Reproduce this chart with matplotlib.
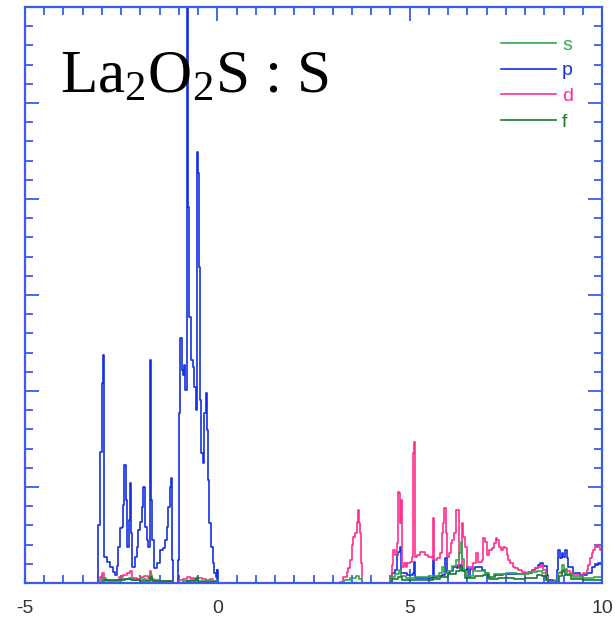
import numpy as np
import matplotlib
matplotlib.use('Agg')
import matplotlib.pyplot as plt
from matplotlib import rcParams
import matplotlib.ticker as ticker

rcParams['font.family'] = 'sans-serif'
rcParams['font.sans-serif'] = ['Liberation Sans', 'DejaVu Sans']
rcParams['mathtext.fontset'] = 'custom'
rcParams['mathtext.rm'] = 'Liberation Serif'
rcParams['mathtext.it'] = 'Liberation Serif:italic'

# partial DOS (energy in eV, DOS in arbitrary units)
# p states
p_e = [-3.15, -3.10, -3.05, -3.01, -2.97, -2.94, -2.87, -2.79, -2.71, -2.66,
       -2.61, -2.57, -2.53, -2.49, -2.44, -2.42, -2.37, -2.34, -2.30, -2.27,
       -2.24, -2.21, -2.14, -2.10, -2.05, -2.01, -1.97, -1.93, -1.88, -1.84,
       -1.79, -1.75, -1.72, -1.69, -1.65, -1.58, -1.49, -1.40, -1.36, -1.32,
       -1.28, -1.23, -1.20, -1.17, -1.15, -1.05, -1.02, -0.99, -0.96, -0.93,
       -0.89, -0.86, -0.83, -0.80, -0.76, -0.73, -0.68, -0.64, -0.60, -0.56,
       -0.53, -0.49, -0.47, -0.44, -0.42, -0.38, -0.34, -0.30, -0.27, -0.24,
       -0.21, -0.17, -0.12, -0.08, -0.04, -0.01, 0.02,
       4.44, 4.53, 4.62, 4.66, 4.70, 4.75, 4.77, 4.92, 5.09, 5.11,
       5.15, 5.48, 5.61, 5.64, 5.74, 5.83, 5.92, 5.96, 6.05, 6.13,
       6.22, 6.26, 6.36, 6.48, 6.52, 6.57, 6.70, 6.87, 6.96, 7.04,
       7.22, 7.43, 8.00, 8.17, 8.26, 8.34, 8.39, 8.47, 8.56, 8.60,
       8.73, 8.82, 8.86, 8.91, 8.95, 8.99, 9.04, 9.08, 9.12, 9.25,
       9.43, 9.60, 9.73, 9.82, 9.90, 10.0]
p_dos = [0.0, 0.60, 1.36, 2.08, 2.38, 0.27, 0.22, 0.17, 0.11, 0.08,
         0.18, 0.375, 0.57, 0.58, 0.81, 1.23, 0.86, 0.375, 0.66, 1.04,
         0.52, 0.17, 0.27, 0.375, 0.55, 0.64, 0.79, 1.0, 0.58, 0.45,
         0.375, 2.32, 0.86, 0.45, 0.16, 0.21, 0.34, 0.36, 0.45, 0.58,
         0.79, 1.0, 1.09, 0.24, 0.0, 0.0, 0.24, 1.77, 2.55, 2.22,
         2.17, 2.27, 2.01, 7.0, 3.92, 2.77, 2.32, 2.25, 2.04, 1.80,
         4.49, 4.27, 3.29, 1.91, 1.35, 1.25, 1.77, 1.98, 1.59, 1.07,
         0.625, 0.375, 0.21, 0.10, 0.06, 0.135, 0.0,
         0.0, 0.10, 0.135, 0.29, 0.32, 0.375, 0.10, 0.08, 0.10, 0.22,
         0.05, 0.05, 0.24, 0.06, 0.07, 0.08, 0.26, 0.10, 0.125, 0.17,
         0.16, 0.19, 0.135, 0.17, 0.06, 0.15, 0.17, 0.135, 0.10, 0.06,
         0.08, 0.09, 0.10, 0.135, 0.16, 0.19, 0.21, 0.18, 0.08, 0.03,
         0.01, 0.135, 0.34, 0.26, 0.31, 0.27, 0.34, 0.26, 0.17, 0.10,
         0.08, 0.10, 0.17, 0.19, 0.21, 0.21]

# d states
d_e = [-3.15, -3.05, -3.00, -2.95, -2.80, -2.65, -2.55, -2.45, -2.35, -2.28,
       -2.22, -2.10, -2.00, -1.90, -1.80, -1.75, -1.72, -1.65, -1.55, -1.40,
       -1.20, -1.15, -1.05, -1.00, -0.90, -0.80, -0.70, -0.60, -0.50, -0.40,
       -0.30, -0.20, -0.10, 0.00,
       3.11, 3.19, 3.27, 3.36, 3.40, 3.45, 3.49, 3.53, 3.58, 3.62,
       3.65, 3.68, 3.71, 3.73, 3.77, 4.44, 4.49, 4.53, 4.57, 4.62,
       4.66, 4.69, 4.72, 4.75, 4.77, 4.81, 4.85, 4.90, 4.94, 5.01,
       5.06, 5.09, 5.12, 5.15, 5.20, 5.27, 5.34, 5.40, 5.48, 5.57,
       5.61, 5.64, 5.70, 5.79, 5.85, 5.87, 5.90, 5.94, 5.98, 6.02,
       6.07, 6.11, 6.15, 6.20, 6.25, 6.28, 6.35, 6.39, 6.43, 6.48,
       6.61, 6.65, 6.72, 6.77, 6.87, 6.91, 6.96, 7.00, 7.06, 7.13,
       7.19, 7.24, 7.28, 7.32, 7.37, 7.43, 7.48, 7.52, 7.56, 7.61,
       7.68, 7.74, 7.81, 7.91, 8.00, 8.07, 8.17, 8.26, 8.34, 8.41,
       8.47, 8.54, 8.60, 8.78, 8.85, 8.91, 8.98, 9.08, 9.17, 9.25,
       9.43, 9.51, 9.60, 9.64, 9.69, 9.73, 9.77, 9.82, 9.86, 9.90,
       9.96, 10.0]
d_dos = [0.0, 0.06, 0.10, 0.03, 0.02, 0.03, 0.06, 0.08, 0.10, 0.12,
         0.05, 0.04, 0.06, 0.07, 0.05, 0.12, 0.04, 0.02, 0.01, 0.02,
         0.02, 0.0, 0.0, 0.03, 0.04, 0.06, 0.05, 0.04, 0.05, 0.04,
         0.03, 0.04, 0.02, 0.0,
         0.0, 0.01, 0.06, 0.11, 0.16, 0.24, 0.40, 0.48, 0.52, 0.64,
         0.76, 0.625, 0.52, 0.21, 0.0, 0.0, 0.06, 0.19, 0.34, 0.29,
         0.42, 0.95, 0.94, 0.625, 0.86, 0.17, 0.21, 0.17, 0.21, 0.22,
         0.27, 1.35, 1.47, 0.27, 0.29, 0.32, 0.32, 0.29, 0.27, 0.26,
         0.68, 0.24, 0.26, 0.31, 0.52, 0.625, 0.78, 0.52, 0.27, 0.31,
         0.42, 0.45, 0.52, 0.76, 0.76, 0.17, 0.625, 0.48, 0.375, 0.17,
         0.135, 0.21, 0.31, 0.22, 0.24, 0.47, 0.43, 0.29, 0.34, 0.36,
         0.42, 0.47, 0.45, 0.375, 0.34, 0.375, 0.36, 0.29, 0.24, 0.21,
         0.17, 0.16, 0.135, 0.11, 0.10, 0.11, 0.135, 0.16, 0.17, 0.19,
         0.135, 0.06, 0.01, 0.03, 0.10, 0.11, 0.135, 0.125, 0.10, 0.08,
         0.07, 0.10, 0.135, 0.19, 0.26, 0.31, 0.34, 0.375, 0.40, 0.375,
         0.34, 0.34]

# s states
s_e = [-3.10, -3.00, -2.90, -2.70, -2.50, -2.30, -2.20, -2.00, -1.85, -1.75,
       -1.70, -1.50, -1.15, -0.90, -0.70, -0.53, -0.50, -0.30, 0.00,
       3.25, 3.30, 3.45, 3.60, 3.68, 3.75, 4.45, 4.52, 4.62, 4.72,
       4.77, 4.90, 5.15, 5.50, 5.75, 5.84, 5.90, 6.00, 6.10, 6.20,
       6.27, 6.33, 6.37, 6.42, 6.50, 6.65, 6.80, 6.95, 7.05, 7.20,
       7.50, 7.80, 8.10, 8.30, 8.45, 8.55, 8.60, 8.78, 8.85, 8.95,
       9.02, 9.10, 9.25, 9.50, 9.80, 10.0]
s_dos = [0.0, 0.05, 0.02, 0.02, 0.04, 0.05, 0.03, 0.04, 0.03, 0.08,
         0.03, 0.01, 0.0, 0.02, 0.03, 0.06, 0.02, 0.02, 0.0,
         0.0, 0.03, 0.05, 0.07, 0.04, 0.0, 0.0, 0.06, 0.09, 0.14,
         0.07, 0.05, 0.06, 0.07, 0.10, 0.17, 0.10, 0.13, 0.18, 0.24,
         0.31, 0.43, 0.25, 0.12, 0.07, 0.12, 0.13, 0.10, 0.06, 0.09,
         0.10, 0.09, 0.11, 0.13, 0.10, 0.04, 0.01, 0.02, 0.10, 0.19,
         0.15, 0.09, 0.06, 0.05, 0.06, 0.06]

# f states
f_e = [-3.05, -2.95, -2.40, -2.25, -2.00, -1.76, -1.70, -1.15, -0.80, -0.55,
       -0.50, 0.00,
       4.45, 4.55, 4.70, 4.80, 5.20, 5.60, 5.80, 6.00, 6.20, 6.30,
       6.35, 6.45, 6.70, 6.90, 7.05, 7.30, 7.70, 8.00, 8.30, 8.45,
       8.55, 8.60, 8.80, 8.88, 8.97, 9.05, 9.20, 9.50, 10.0]
f_dos = [0.0, 0.03, 0.04, 0.03, 0.02, 0.06, 0.02, 0.0, 0.02, 0.05,
         0.01, 0.0,
         0.0, 0.04, 0.06, 0.03, 0.03, 0.04, 0.06, 0.09, 0.13, 0.18,
         0.12, 0.05, 0.07, 0.08, 0.04, 0.05, 0.04, 0.05, 0.08, 0.07,
         0.03, 0.0, 0.01, 0.07, 0.12, 0.08, 0.04, 0.03, 0.03]

orbitals = ['s', 'p', 'd', 'f']
colors = {'s': '#2fa84a', 'p': '#1530e0', 'd': '#ff2f8e', 'f': '#17782c'}
axis_color = '#3a5af0'

fig = plt.figure(figsize=(6.16, 6.21), dpi=100)
ax = fig.add_axes([25 / 616, 38 / 621, 577 / 616, 576 / 621])

curves = {'s': (s_e, s_dos), 'p': (p_e, p_dos), 'd': (d_e, d_dos), 'f': (f_e, f_dos)}
# draw p first so the small contributions sit on top, legend order stays s,p,d,f
handles = {}
for name in ['p', 'd', 's', 'f']:
    e, v = curves[name]
    handles[name], = ax.step(e, v, where='post', color=colors[name], linewidth=1.2, label=name)

ax.set_xlim(-5, 10)
ax.set_ylim(0, 6)
ax.xaxis.set_major_locator(ticker.MultipleLocator(5))
ax.xaxis.set_minor_locator(ticker.MultipleLocator(0.5))
ax.yaxis.set_major_locator(ticker.MultipleLocator(1))
ax.yaxis.set_minor_locator(ticker.MultipleLocator(0.2))
ax.xaxis.set_major_formatter(ticker.FuncFormatter(lambda x, pos: '%d' % x))
ax.tick_params(which='both', direction='in', top=True, right=True, color=axis_color, width=1.3)
ax.tick_params(which='major', length=10)
ax.tick_params(which='minor', length=6)
ax.tick_params(axis='x', labelsize=14, labelcolor='#333333', pad=12)
ax.tick_params(axis='y', labelleft=False)
for sp in ax.spines.values():
    sp.set_color(axis_color)
    sp.set_linewidth(1.6)

leg = ax.legend([handles[k] for k in orbitals], orbitals, loc='upper right',
                bbox_to_anchor=(0.98, 0.98), frameon=False, fontsize=14,
                handlelength=2.85, handletextpad=0.3, labelspacing=0.42,
                labelcolor='linecolor')

ax.text(0.061, 0.851, 'La$_2$O$_2$S : S', transform=ax.transAxes,
        family='Liberation Serif', fontsize=44, va='baseline', ha='left')

fig.savefig('out.png', dpi=100)
